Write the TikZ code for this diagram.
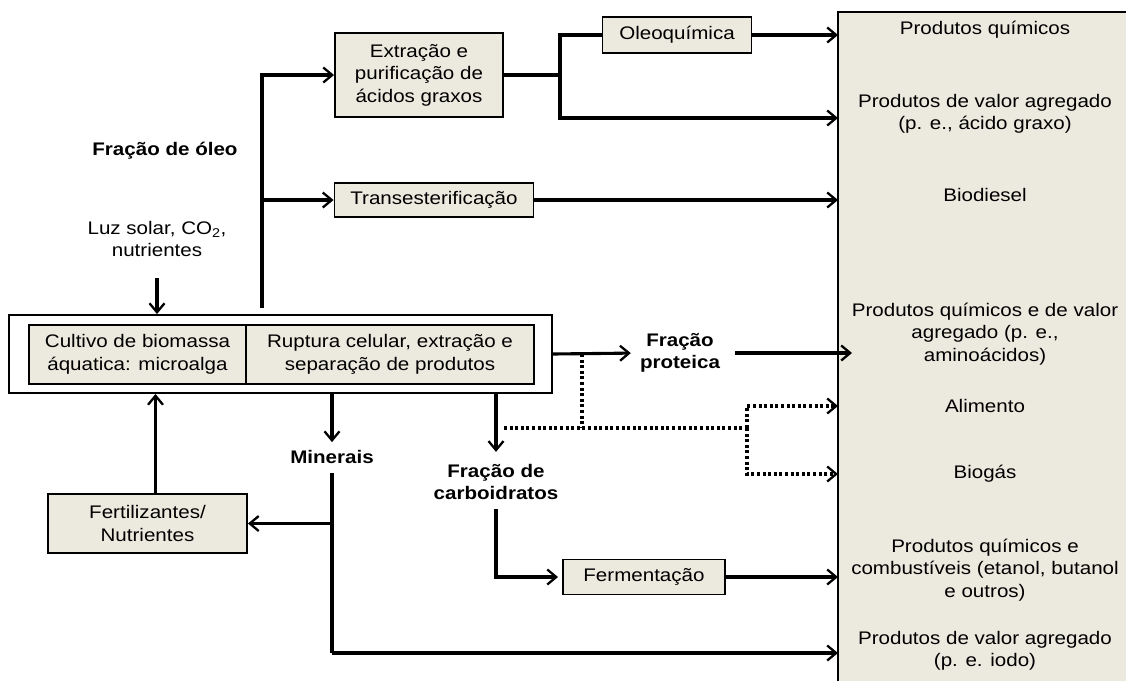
\documentclass[tikz,border=0pt]{standalone}
\usepackage{fontspec}
\setmainfont{Liberation Sans}[FakeStretch=1.13]
\usepackage{xcolor}
\usetikzlibrary{arrows.meta, positioning, calc}
\definecolor{boxfill}{RGB}{236,233,222}

\begin{document}
\begin{tikzpicture}[x=1pt, y=-1pt,
                font=\fontsize{18.2}{22.5}\selectfont,
                box/.style={rectangle, draw=black, line width=1.9pt, fill=boxfill, align=center, inner sep=0pt},
                tag/.style={align=center, inner sep=1pt, font=\fontsize{18.2}{22.5}\selectfont\bfseries},
                product/.style={align=center, inner sep=0pt},
                link/.style={line width=3.1pt},
                arrow/.style={-{Straight Barb[length=9pt,width=15pt,line width=2.3pt]}, line width=3.1pt},
                dotline/.style={line width=3.1pt, dash pattern=on 3pt off 2.6pt},
                dotarrow/.style={arrow, dash pattern=on 3pt off 2.6pt}
            ]
                \useasboundingbox (0,0) rectangle (1126,681);

                % produtos
                \node (panel) [fill=boxfill, minimum width=288pt, minimum height=669pt, inner sep=0pt, anchor=north west] at (838,12) {};
                \draw [line width=1.9pt] (panel.north east) -- (panel.north west) -- (panel.south west);
                \node (p1) [product] at (985,30) {Produtos químicos};
                \node (p2) [product] at (985,114) {Produtos de valor agregado \\ (p. e., ácido graxo)};
                \node (p3) [product] at (985,195) {Biodiesel};
                \node (p4) [product] at (985,334) {Produtos químicos e de valor \\ agregado (p. e., \\ aminoácidos)};
                \node (p5) [product] at (985,406) {Alimento};
                \node (p6) [product] at (985,474) {Biogás};
                \node (p7) [product] at (985,570) {Produtos químicos e \\ combustíveis (etanol, butanol \\ e outros)};
                \node (p8) [product] at (985,651) {Produtos de valor agregado \\ (p. e. iodo)};

                % processo
                \node (sistema) [box, fill=white, minimum width=543pt, minimum height=78pt] at (280.5,354) {};
                \node (cultivo) [box, minimum width=217pt, minimum height=59pt] at (137.5,354.5) {Cultivo de biomassa \\ áquatica: microalga};
                \node (ruptura) [box, minimum width=288pt, minimum height=59pt] at (390,354.5) {Ruptura celular, extração e \\ separação de produtos};
                \node (extracao) [box, minimum width=168pt, minimum height=84pt] at (419,75) {Extração e \\ purificação de \\ ácidos graxos};
                \node (oleo) [box, minimum width=149pt, minimum height=36pt] at (677,35) {Oleoquímica};
                \node (trans) [box, minimum width=199pt, minimum height=34pt] at (434,200) {Transesterificação};
                \node (fert) [box, minimum width=199pt, minimum height=59pt] at (147.5,523.5) {Fertilizantes/ \\ Nutrientes};
                \node (ferm) [box, minimum width=162pt, minimum height=35pt] at (644,577) {Fermentação};

                % frações
                \node (fracoleo) [tag] at (165,151) {Fração de óleo};
                \node (luz) [product, inner sep=1pt] at (157,239) {Luz solar, CO\textsubscript{2}, \\ nutrientes};
                \node (proteica) [tag] at (680,353) {Fração \\ proteica};
                \node (minerais) [tag] at (332,457) {Minerais};
                \node (carbo) [tag] at (496,482) {Fração de \\ carboidratos};

                \coordinate (tronco) at (262,308);
                \coordinate (j1) at (560,75);
                \coordinate (j2) at (560,118);
                \coordinate (dj) at (582,354);
                \coordinate (dl) at (504,428);
                \coordinate (dr) at (747,428);

                \draw [arrow] (tronco) |- (extracao.west);
                \draw [arrow] (trans.west -| tronco) -- (trans.west);
                \draw [link] (extracao.east) -- (j1);
                \draw [link] (oleo.west) -| (j1);
                \draw [arrow] (j1) -- (j2) -- (j2 -| panel.west);
                \draw [arrow] (oleo.east) -- (oleo.east -| panel.west);
                \draw [arrow] (trans.east) -- (trans.east -| panel.west);

                \draw [arrow] ([yshift=-20pt]luz.south) -- (luz.south |- sistema.north);
                \draw [arrow] ([xshift=8pt]fert.north) -- ([xshift=8pt]fert.north |- sistema.south);

                \draw [arrow, shorten >=8pt] (sistema.east) -- (proteica.west);
                \draw [arrow] ([xshift=14pt]proteica.east) -- ([xshift=14pt]proteica.east -| panel.west);

                \draw [arrow] (sistema.south -| minerais) -- ([yshift=7pt]minerais.north);
                \draw [link] ([yshift=-8pt]minerais.south) -- (minerais |- 0,653);
                \draw [arrow] (minerais |- 0,653) -- (panel.west |- 0,653);
                \draw [arrow] (fert.east -| minerais) -- (fert.east);

                \draw [arrow] (sistema.south -| carbo) -- ([yshift=11pt]carbo.north);
                \draw [arrow, shorten >=4pt] ([yshift=-8pt]carbo.south) |- (ferm.west);
                \draw [arrow] (ferm.east) -- (ferm.east -| panel.west);

                \draw [dotline] (dj) -- (dj |- dl);
                \draw [dotline] (dl) -- (dr);
                \draw [dotarrow] (dr) |- (p5.west -| panel.west);
                \draw [dotarrow] (dr) |- (p6.west -| panel.west);
            \end{tikzpicture}
\end{document}
